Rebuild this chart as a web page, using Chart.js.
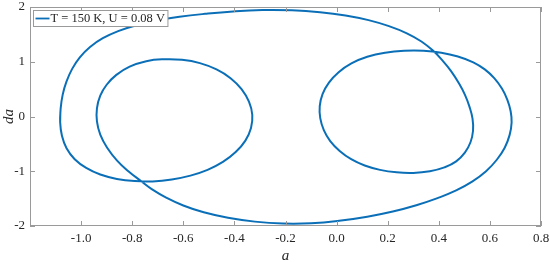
<!DOCTYPE html>
<html>
<head>
<meta charset="utf-8">
<script src="https://cdn.jsdelivr.net/npm/chart.js@4.4.1/dist/chart.umd.min.js"></script>
<style>
  html, body { margin: 0; padding: 0; background: #fff; }
  #wrap { width: 550px; height: 262px; position: relative; }
</style>
</head>
<body>
<div id="wrap"><canvas id="phaseChart"></canvas></div>
<script>
// phase portrait, in drawing order (a, da)
// outer left -> big upper arc -> inner right -> small right loop -> outer right
// -> big lower arc -> inner left -> small left loop -> outer left (closed)
const curveA = [
    -1.082, -1.080, -1.072, -1.057, -1.035, -1.005, -0.965, -0.915, -0.855, -0.785,
    -0.705, -0.615, -0.515, -0.405, -0.290, -0.175, -0.065, 0.035, 0.125, 0.205,
    0.275, 0.332, 0.378, 0.415, 0.448, 0.477, 0.502, 0.520, 0.532, 0.534,
    0.524, 0.502, 0.468, 0.422, 0.365, 0.300, 0.235, 0.170, 0.110, 0.057,
    0.012, -0.025, -0.050, -0.064, -0.066, -0.055, -0.030, 0.008, 0.058, 0.120,
    0.190, 0.265, 0.340, 0.410, 0.475, 0.535, 0.580, 0.617, 0.647, 0.668,
    0.681, 0.685, 0.677, 0.658, 0.627, 0.585, 0.532, 0.468, 0.395, 0.312,
    0.220, 0.120, 0.010, -0.100, -0.210, -0.320, -0.425, -0.520, -0.600, -0.667,
    -0.722, -0.768, -0.815, -0.860, -0.898, -0.925, -0.938, -0.938, -0.925, -0.900,
    -0.862, -0.810, -0.745, -0.675, -0.605, -0.535, -0.470, -0.415, -0.372, -0.343,
    -0.330, -0.335, -0.357, -0.395, -0.445, -0.505, -0.572, -0.645, -0.720, -0.790,
    -0.860, -0.925, -0.980, -1.025, -1.057, -1.075, -1.082, -1.080
];
const curveDa = [
    -0.10, 0.15, 0.40, 0.64, 0.87, 1.08, 1.27, 1.43, 1.56, 1.665,
    1.75, 1.82, 1.875, 1.92, 1.945, 1.94, 1.905, 1.845, 1.76, 1.65,
    1.52, 1.37, 1.20, 1.02, 0.83, 0.62, 0.40, 0.18, -0.04, -0.26,
    -0.47, -0.66, -0.82, -0.93, -1.00, -1.03, -1.02, -0.975, -0.895, -0.78,
    -0.63, -0.45, -0.25, -0.03, 0.19, 0.41, 0.62, 0.81, 0.97, 1.09,
    1.165, 1.20, 1.20, 1.165, 1.095, 0.99, 0.86, 0.70, 0.51, 0.31,
    0.10, -0.11, -0.34, -0.57, -0.79, -1.00, -1.185, -1.35, -1.49, -1.62,
    -1.735, -1.83, -1.905, -1.95, -1.955, -1.92, -1.85, -1.75, -1.625, -1.48,
    -1.33, -1.17, -1.00, -0.80, -0.57, -0.33, -0.09, 0.15, 0.38, 0.58,
    0.76, 0.91, 1.01, 1.045, 1.035, 0.975, 0.86, 0.70, 0.50, 0.27,
    0.03, -0.21, -0.44, -0.65, -0.83, -0.975, -1.08, -1.15, -1.185, -1.18,
    -1.14, -1.06, -0.94, -0.78, -0.58, -0.35, -0.10, 0.15
];
const xTicks = [-1.0, -0.8, -0.6, -0.4, -0.2, 0.0, 0.2, 0.4, 0.6, 0.8];
const yTicks = [-2, -1, 0, 1, 2];
const seriesLabel = 'T = 150 K, U = 0.08 V';

const lineColor = '#0b6fb8';
const axisColor = '#9a9a9a';
const textColor = '#262626';
const serif = '"Liberation Serif", "Times New Roman", serif';

// box round the plot with inward ticks on all four sides, then the legend on top of the curve
const frameAndLegend = {
    id: 'frameAndLegend',
    afterDatasetsDraw(chart) {
        const { ctx, chartArea, scales } = chart;
        const { left, right, top, bottom } = chartArea;
        ctx.save();
        ctx.strokeStyle = axisColor;
        ctx.lineWidth = 1;
        ctx.beginPath();
        xTicks.forEach(v => {
            const px = Math.round(scales.x.getPixelForValue(v)) + 0.5;
            ctx.moveTo(px, bottom); ctx.lineTo(px, bottom - 5);
            ctx.moveTo(px, top); ctx.lineTo(px, top + 5);
        });
        yTicks.forEach(v => {
            const py = Math.round(scales.y.getPixelForValue(v)) + 0.5;
            ctx.moveTo(left, py); ctx.lineTo(left + 5, py);
            ctx.moveTo(right, py); ctx.lineTo(right - 5, py);
        });
        ctx.stroke();
        ctx.strokeRect(Math.round(left) + 0.5, Math.round(top) + 0.5,
            Math.round(right - left) - 1, Math.round(bottom - top) - 1);

        // legend
        ctx.font = '12.5px ' + serif;
        const textW = ctx.measureText(seriesLabel).width;
        const bx = Math.round(left) + 3.5, by = Math.round(top) + 3.5;
        const bw = 17 + textW + 3, bh = 16;
        ctx.fillStyle = '#fff';
        ctx.fillRect(bx, by, bw, bh);
        ctx.strokeStyle = axisColor;
        ctx.strokeRect(bx, by, bw, bh);
        ctx.strokeStyle = lineColor;
        ctx.lineWidth = 1.8;
        ctx.beginPath();
        ctx.moveTo(bx + 2, by + bh / 2);
        ctx.lineTo(bx + 16, by + bh / 2);
        ctx.stroke();
        ctx.fillStyle = textColor;
        ctx.textBaseline = 'middle';
        ctx.fillText(seriesLabel, bx + 17, by + bh / 2 + 0.5);
        ctx.restore();
    }
};

const ctx = document.getElementById('phaseChart').getContext('2d');
new Chart(ctx, {
    type: 'line',
    data: {
        datasets: [{
            label: seriesLabel,
            data: curveA.map((a, i) => ({ x: a, y: curveDa[i] })),
            borderColor: lineColor,
            borderWidth: 2,
            pointRadius: 0,
            tension: 0.45,
            fill: false
        }]
    },
    options: {
        responsive: true,
        maintainAspectRatio: false,
        animation: false,
        devicePixelRatio: 1,
        layout: { padding: { left: 0, top: 7, right: 9, bottom: 0 } },
        plugins: {
            legend: { display: false },
            tooltip: { enabled: false }
        },
        scales: {
            x: {
                type: 'linear',
                min: -1.2,
                max: 0.8,
                afterBuildTicks: scale => { scale.ticks = xTicks.map(v => ({ value: v })); },
                afterFit: scale => {
                    scale.height = 36;
                    scale.paddingLeft = 0;
                    scale.paddingRight = 0;
                },
                grid: { display: false, drawTicks: false },
                border: { display: false },
                ticks: {
                    autoSkip: false,
                    maxRotation: 0,
                    padding: 5,
                    color: textColor,
                    font: { family: serif, size: 13 },
                    callback: v => v.toFixed(1)
                },
                title: {
                    display: true,
                    text: 'a',
                    color: textColor,
                    padding: { top: 0, bottom: -3 },
                    font: { family: serif, size: 15, style: 'italic' }
                }
            },
            y: {
                type: 'linear',
                min: -2,
                max: 2,
                afterBuildTicks: scale => { scale.ticks = yTicks.map(v => ({ value: v })); },
                afterFit: scale => {
                    scale.width = 30;
                    scale.paddingTop = 0;
                    scale.paddingBottom = 0;
                },
                grid: { display: false, drawTicks: false },
                border: { display: false },
                ticks: {
                    padding: 5,
                    color: textColor,
                    font: { family: serif, size: 13 },
                    callback: v => String(v)
                },
                title: {
                    display: true,
                    text: 'da',
                    color: textColor,
                    padding: 0,
                    font: { family: serif, size: 15, style: 'italic' }
                }
            }
        }
    },
    plugins: [frameAndLegend]
});
</script>
</body>
</html>
